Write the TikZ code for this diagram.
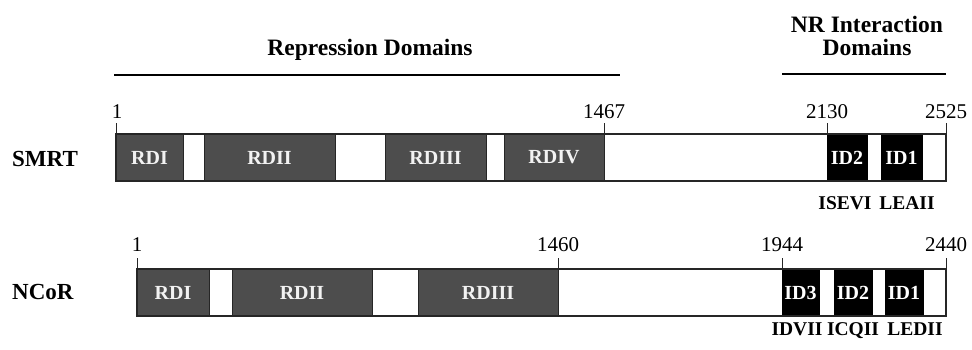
\documentclass[tikz,border=0pt]{standalone}
\usepackage{fontspec}
\setmainfont{Liberation Serif}
\definecolor{rdgray}{HTML}{4D4D4D}
\definecolor{rdtext}{HTML}{F2F2F2}
\begin{document}
\begin{tikzpicture}[x=1pt,y=-1pt,
  barbox/.style={draw=black!85,line width=1.2pt,fill=white,inner sep=0pt,outer sep=0pt,anchor=north west},
  rdbox/.style={draw=black!85,line width=0.8pt,fill=rdgray,text=rdtext,inner sep=0pt,outer sep=0pt,anchor=north west,font=\fontsize{20}{22}\selectfont\bfseries},
  idbox/.style={draw=black,line width=0.8pt,fill=black,text=white,inner sep=0pt,outer sep=0pt,anchor=north west,font=\fontsize{20}{22}\selectfont\bfseries},
  numlbl/.style={anchor=base,inner sep=0pt,font=\fontsize{21}{23}\selectfont},
  protlbl/.style={anchor=base west,inner sep=0pt,font=\fontsize{23}{25}\selectfont\bfseries},
  headlbl/.style={anchor=base,inner sep=0pt,font=\fontsize{23.5}{25}\selectfont\bfseries},
  motif/.style={anchor=base,inner sep=0pt,font=\fontsize{19.5}{21}\selectfont\bfseries},
  tick/.style={line width=1pt,black!85},
  rule/.style={line width=2pt}]
\useasboundingbox (0,0) rectangle (972,349);

% headers
\node[headlbl] (rephead) at (370,55) {Repression Domains};
\coordinate (repL) at (114,75);
\coordinate (repR) at (620,75);
\draw[rule] (repL) -- (repR);
\node[headlbl] (nrhead1) at (867,32) {NR Interaction};
\node[headlbl] (nrhead2) at (867,55) {Domains};
\coordinate (nrL) at (782,74);
\coordinate (nrR) at (946,74);
\draw[rule] (nrL) -- (nrR);

% SMRT
\node[protlbl] (smrt) at (12,166) {SMRT};
\node[barbox,minimum width=830pt,minimum height=47pt] (sbar) at (116,134) {};
\node[rdbox,minimum width=67pt,minimum height=47pt] (srd1) at (116,134) {RDI};
\node[rdbox,minimum width=131pt,minimum height=47pt] (srd2) at (204,134) {RDII};
\node[rdbox,minimum width=101pt,minimum height=47pt] (srd3) at (385,134) {RDIII};
\node[rdbox,minimum width=100pt,minimum height=47pt] (srd4) at (504,134) {RDIV};
\node[idbox,minimum width=40pt,minimum height=47pt] (sid2) at (827,134) {ID2};
\node[idbox,minimum width=41pt,minimum height=47pt] (sid1) at (881,134) {ID1};
\draw[barbox,fill=none] (sbar.north west) rectangle (sbar.south east);
\coordinate (st1) at (116,123);
\coordinate (st2) at (604,123);
\coordinate (st3) at (827,123);
\coordinate (st4) at (946,123);
\draw[tick] (st1) -- (srd1.north west);
\draw[tick] (st2) -- (srd4.north east);
\draw[tick] (st3) -- (sid2.north west);
\draw[tick] (st4) -- (sbar.north east);
\node[numlbl] (sn1) at (117,118) {1};
\node[numlbl] (sn2) at (604,118) {1467};
\node[numlbl] (sn3) at (827,118) {2130};
\node[numlbl] (sn4) at (946,118) {2525};
\node[motif] (isevi) at (845,209) {ISEVI};
\node[motif] (leaii) at (907,209) {LEAII};

% NCoR
\node[protlbl] (ncor) at (12,299) {NCoR};
\node[barbox,minimum width=809pt,minimum height=47pt] (nbar) at (137,269) {};
\node[rdbox,minimum width=72pt,minimum height=47pt] (nrd1) at (137,269) {RDI};
\node[rdbox,minimum width=140pt,minimum height=47pt] (nrd2) at (232,269) {RDII};
\node[rdbox,minimum width=140pt,minimum height=47pt] (nrd3) at (418,269) {RDIII};
\node[idbox,minimum width=37pt,minimum height=47pt] (nid3) at (782,269) {ID3};
\node[idbox,minimum width=38pt,minimum height=47pt] (nid2) at (834,269) {ID2};
\node[idbox,minimum width=38pt,minimum height=47pt] (nid1) at (885,269) {ID1};
\draw[barbox,fill=none] (nbar.north west) rectangle (nbar.south east);
\coordinate (nt1) at (137,258);
\coordinate (nt2) at (558,258);
\coordinate (nt3) at (782,258);
\coordinate (nt4) at (946,258);
\draw[tick] (nt1) -- (nrd1.north west);
\draw[tick] (nt2) -- (nrd3.north east);
\draw[tick] (nt3) -- (nid3.north west);
\draw[tick] (nt4) -- (nbar.north east);
\node[numlbl] (nn1) at (137,251) {1};
\node[numlbl] (nn2) at (558,251) {1460};
\node[numlbl] (nn3) at (782,251) {1944};
\node[numlbl] (nn4) at (946,251) {2440};
\node[motif] (idvii) at (797,335) {IDVII};
\node[motif] (icqii) at (853,335) {ICQII};
\node[motif] (ledii) at (915,335) {LEDII};
\end{tikzpicture}
\end{document}
